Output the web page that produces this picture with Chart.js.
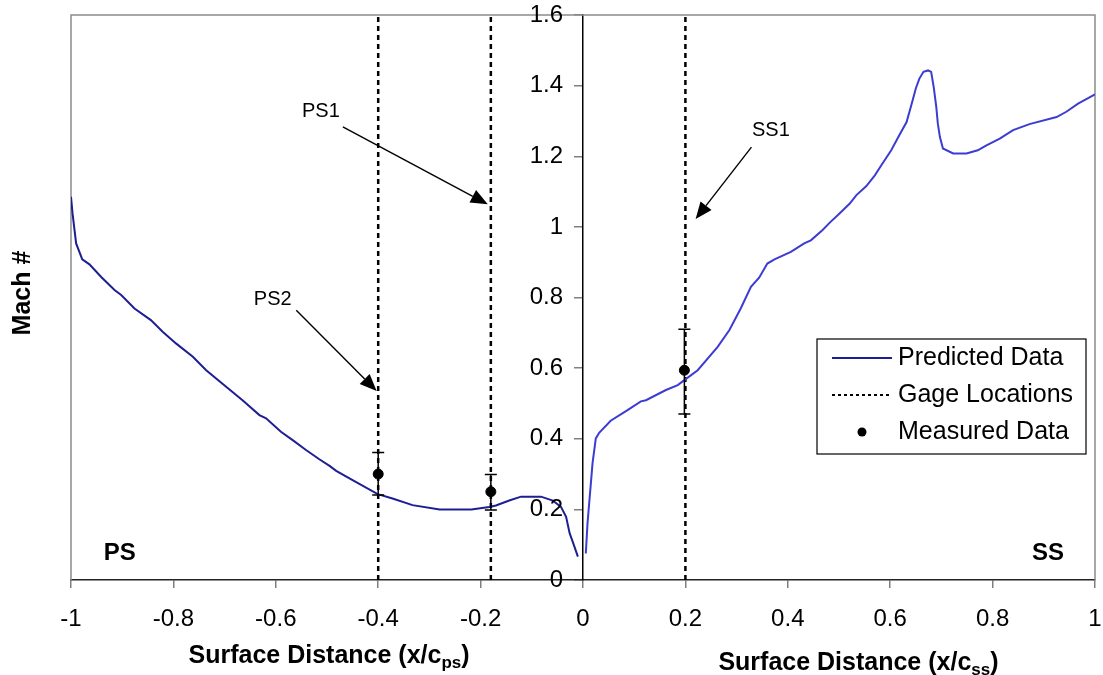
<!DOCTYPE html>
<html><head><meta charset="utf-8">
<script src="https://cdn.jsdelivr.net/npm/chart.js@4.4.0/dist/chart.umd.min.js"></script>
<style>html,body{margin:0;padding:0;background:#fff;}#wrap{width:1103px;height:675px;}</style>
</head><body><div id="wrap"><canvas id="c" width="1103" height="675"></canvas></div>
<script>
// ---- data ----
const xTicks = [-1, -0.8, -0.6, -0.4, -0.2, 0, 0.2, 0.4, 0.6, 0.8, 1];
const yTicks = [0, 0.2, 0.4, 0.6, 0.8, 1, 1.2, 1.4, 1.6];

const psX = [-1.0, -0.997, -0.990, -0.978, -0.964, -0.941, -0.915, -0.902, -0.876, -0.844, -0.821, -0.795, -0.762, -0.736, -0.697, -0.665, -0.632, -0.619, -0.590, -0.567, -0.541, -0.515, -0.495, -0.482, -0.450, -0.401, -0.372, -0.333, -0.280, -0.218, -0.183, -0.170, -0.144, -0.121, -0.082, -0.059, -0.043, -0.033, -0.026, -0.020, -0.010];
const psMach = [1.085, 1.038, 0.953, 0.908, 0.894, 0.858, 0.821, 0.807, 0.769, 0.736, 0.703, 0.670, 0.632, 0.594, 0.547, 0.509, 0.467, 0.458, 0.420, 0.396, 0.368, 0.342, 0.323, 0.309, 0.283, 0.243, 0.231, 0.212, 0.200, 0.200, 0.207, 0.211, 0.225, 0.236, 0.236, 0.225, 0.207, 0.179, 0.132, 0.108, 0.066];

const ssX = [0.0055, 0.0088, 0.0186, 0.025, 0.0316, 0.054, 0.087, 0.113, 0.123, 0.162, 0.185, 0.198, 0.224, 0.263, 0.286, 0.308, 0.328, 0.344, 0.360, 0.374, 0.406, 0.432, 0.445, 0.468, 0.482, 0.501, 0.521, 0.534, 0.553, 0.570, 0.583, 0.602, 0.618, 0.632, 0.644, 0.650, 0.657, 0.665, 0.674, 0.680, 0.685, 0.690, 0.693, 0.697, 0.703, 0.723, 0.749, 0.771, 0.788, 0.814, 0.840, 0.872, 0.925, 0.944, 0.967, 1.0];
const ssMach = [0.075, 0.160, 0.330, 0.401, 0.417, 0.451, 0.481, 0.506, 0.509, 0.538, 0.552, 0.566, 0.594, 0.660, 0.708, 0.769, 0.830, 0.856, 0.896, 0.908, 0.929, 0.953, 0.962, 0.991, 1.012, 1.038, 1.066, 1.090, 1.115, 1.146, 1.175, 1.217, 1.260, 1.297, 1.359, 1.392, 1.420, 1.439, 1.443, 1.439, 1.396, 1.340, 1.293, 1.255, 1.222, 1.208, 1.208, 1.217, 1.231, 1.250, 1.274, 1.291, 1.311, 1.326, 1.349, 1.375];

const gageX = [-0.4, -0.18, 0.2];
const measuredX = [-0.4, -0.18, 0.198];
const measuredMach = [0.300, 0.250, 0.594];
const measuredLow = [0.241, 0.198, 0.470];
const measuredHigh = [0.361, 0.299, 0.710];

const gageNames = ['PS2', 'PS1', 'SS1'];
const gageLabelX = [-0.606, -0.512, 0.367];
const gageLabelMach = [0.793, 1.328, 1.274];
const arrowFromX = [-0.560, -0.469, 0.329];
const arrowFromMach = [0.764, 1.283, 1.226];
const arrowToX = [-0.403, -0.186, 0.220];
const arrowToMach = [0.535, 1.064, 1.022];

const sideNames = ['PS', 'SS'];
const sideX = [-0.905, 0.908];
const sideMach = [0.076, 0.076];

const legendLabels = ['Predicted Data', 'Gage Locations', 'Measured Data'];

// ---- styles ----
const FONT = "'Liberation Sans', Arial, sans-serif";
const PS_COLOR = '#1e1e94';
const SS_COLOR = '#3c3cd2';

const pts = (xs, ys) => xs.map((x, i) => ({x: x, y: ys[i]}));

const datasets = [
  {label: 'Predicted Data', data: pts(psX, psMach), borderColor: PS_COLOR, borderWidth: 2, pointRadius: 0, tension: 0},
  {label: 'Predicted Data SS', data: pts(ssX, ssMach), borderColor: SS_COLOR, borderWidth: 2, pointRadius: 0, tension: 0}
];
gageX.forEach((g, i) => {
  datasets.push({label: 'Gage ' + gageNames[i], data: [{x: g, y: yTicks[0]}, {x: g, y: yTicks[yTicks.length - 1]}],
    borderColor: '#000', borderWidth: 2.5, borderDash: [5, 4], pointRadius: 0});
});
datasets.push({label: 'Measured Data', type: 'scatter', data: pts(measuredX, measuredMach),
  backgroundColor: '#000', borderColor: '#000', pointRadius: 5, pointHoverRadius: 5, showLine: false});

const extras = {
  id: 'extras',
  beforeDatasetsDraw(chart) {
    const {ctx, chartArea: a} = chart;
    ctx.save();
    ctx.strokeStyle = '#8c8c8c';
    ctx.lineWidth = 1.5;
    ctx.beginPath();
    ctx.moveTo(a.left, a.bottom); ctx.lineTo(a.left, a.top); ctx.lineTo(a.right, a.top); ctx.lineTo(a.right, a.bottom);
    ctx.stroke();
    ctx.restore();
  },
  afterDatasetsDraw(chart) {
    const {ctx, chartArea: a, scales: {x, y}} = chart;
    ctx.save();
    // y tick labels, left of the centred y axis
    ctx.fillStyle = '#000';
    ctx.font = '24px ' + FONT;
    ctx.textAlign = 'right'; ctx.textBaseline = 'middle';
    const axisPx = x.getPixelForValue(0);
    y.ticks.forEach(t => ctx.fillText(String(t.value), axisPx - 20, y.getPixelForValue(t.value)));
    // error bars
    ctx.strokeStyle = '#000'; ctx.lineWidth = 1.5;
    measuredX.forEach((mx, i) => {
      const px = x.getPixelForValue(mx);
      const lo = y.getPixelForValue(measuredLow[i]);
      const hi = y.getPixelForValue(measuredHigh[i]);
      ctx.beginPath();
      ctx.moveTo(px, lo); ctx.lineTo(px, hi);
      ctx.moveTo(px - 6, lo); ctx.lineTo(px + 6, lo);
      ctx.moveTo(px - 6, hi); ctx.lineTo(px + 6, hi);
      ctx.stroke();
    });
    // arrows + labels
    ctx.fillStyle = '#000';
    ctx.font = '20px ' + FONT;
    ctx.textAlign = 'center'; ctx.textBaseline = 'middle';
    gageNames.forEach((n, i) => {
      ctx.fillText(n, x.getPixelForValue(gageLabelX[i]), y.getPixelForValue(gageLabelMach[i]));
      const x1 = x.getPixelForValue(arrowFromX[i]), y1 = y.getPixelForValue(arrowFromMach[i]);
      const x2 = x.getPixelForValue(arrowToX[i]), y2 = y.getPixelForValue(arrowToMach[i]);
      const ang = Math.atan2(y2 - y1, x2 - x1);
      const L = 17, W = 7;
      const bx = x2 - L * Math.cos(ang), by = y2 - L * Math.sin(ang);
      ctx.lineWidth = 1.4;
      ctx.beginPath(); ctx.moveTo(x1, y1); ctx.lineTo(bx, by); ctx.stroke();
      ctx.beginPath();
      ctx.moveTo(x2, y2);
      ctx.lineTo(bx + W * Math.sin(ang), by - W * Math.cos(ang));
      ctx.lineTo(bx - W * Math.sin(ang), by + W * Math.cos(ang));
      ctx.closePath(); ctx.fill();
    });
    // side labels
    ctx.font = 'bold 24px ' + FONT;
    sideNames.forEach((n, i) => ctx.fillText(n, x.getPixelForValue(sideX[i]), y.getPixelForValue(sideMach[i])));
    // legend
    const lx = 817, ly = 339, lw = 269, lh = 115;
    ctx.fillStyle = '#fff';
    ctx.fillRect(lx, ly, lw, lh);
    ctx.strokeStyle = '#000'; ctx.lineWidth = 1.2;
    ctx.strokeRect(lx, ly, lw, lh);
    ctx.font = '25px ' + FONT; ctx.textAlign = 'left'; ctx.fillStyle = '#000';
    const rowY = [358, 395, 432];
    legendLabels.forEach((t, i) => ctx.fillText(t, 898, rowY[i]));
    ctx.strokeStyle = PS_COLOR; ctx.lineWidth = 2;
    ctx.beginPath(); ctx.moveTo(832, rowY[0]); ctx.lineTo(892, rowY[0]); ctx.stroke();
    ctx.strokeStyle = '#000'; ctx.setLineDash([3, 3]); ctx.lineWidth = 2;
    ctx.beginPath(); ctx.moveTo(832, rowY[1]); ctx.lineTo(892, rowY[1]); ctx.stroke();
    ctx.setLineDash([]);
    ctx.beginPath(); ctx.arc(862, rowY[2], 4.5, 0, Math.PI * 2); ctx.fill();
    ctx.restore();
  },
  afterDraw(chart) {
    const {ctx, scales: {x}} = chart;
    ctx.save();
    ctx.fillStyle = '#000';
    ctx.textBaseline = 'alphabetic';
    const drawTitle = (cx, base, sub) => {
      const main = 'Surface Distance (x/c';
      ctx.font = 'bold 25px ' + FONT;
      const w1 = ctx.measureText(main).width;
      const w3 = ctx.measureText(')').width;
      ctx.font = 'bold 17px ' + FONT;
      const w2 = ctx.measureText(sub).width;
      let sx = cx - (w1 + w2 + w3) / 2;
      ctx.font = 'bold 25px ' + FONT; ctx.textAlign = 'left';
      ctx.fillText(main, sx, base);
      ctx.font = 'bold 17px ' + FONT;
      ctx.fillText(sub, sx + w1, base + 5);
      ctx.font = 'bold 25px ' + FONT;
      ctx.fillText(')', sx + w1 + w2, base);
    };
    drawTitle(x.getPixelForValue(-0.496), 663, 'ps');
    drawTitle(x.getPixelForValue(0.538), 670, 'ss');
    ctx.translate(23, 293);
    ctx.rotate(-Math.PI / 2);
    ctx.textAlign = 'center'; ctx.textBaseline = 'middle';
    ctx.font = 'bold 25px ' + FONT;
    ctx.fillText('Mach #', 0, 0);
    ctx.restore();
  }
};

new Chart(document.getElementById('c'), {
  type: 'line',
  data: {datasets},
  options: {
    responsive: false,
    animation: false,
    devicePixelRatio: 1,
    layout: {padding: {left: 71, right: 8, top: 15, bottom: 0}},
    plugins: {legend: {display: false}, tooltip: {enabled: false}},
    scales: {
      x: {
        type: 'linear', position: 'bottom', min: -1, max: 1,
        afterBuildTicks: s => { s.ticks = xTicks.map(v => ({value: v})); },
        afterFit: s => { s.height = 95; s.paddingLeft = 0; s.paddingRight = 0; },
        ticks: {autoSkip: false, maxRotation: 0, padding: 17, color: '#000', font: {family: FONT, size: 24},
          callback: v => String(v)},
        grid: {drawOnChartArea: false, drawTicks: true, tickLength: 8, color: '#808080', lineWidth: 1.5},
        border: {display: true, color: '#222', width: 1.5}
      },
      y: {
        type: 'linear', position: {x: 0}, min: 0, max: 1.6,
        afterBuildTicks: s => { s.ticks = yTicks.map(v => ({value: v})); },
        afterFit: s => { s.paddingTop = 0; s.paddingBottom = 0; },
        ticks: {display: false},
        grid: {drawOnChartArea: false, drawTicks: true, tickLength: 8, color: '#808080', lineWidth: 1.5},
        border: {display: true, color: '#000', width: 1.5}
      }
    }
  },
  plugins: [extras]
});
</script></body></html>
